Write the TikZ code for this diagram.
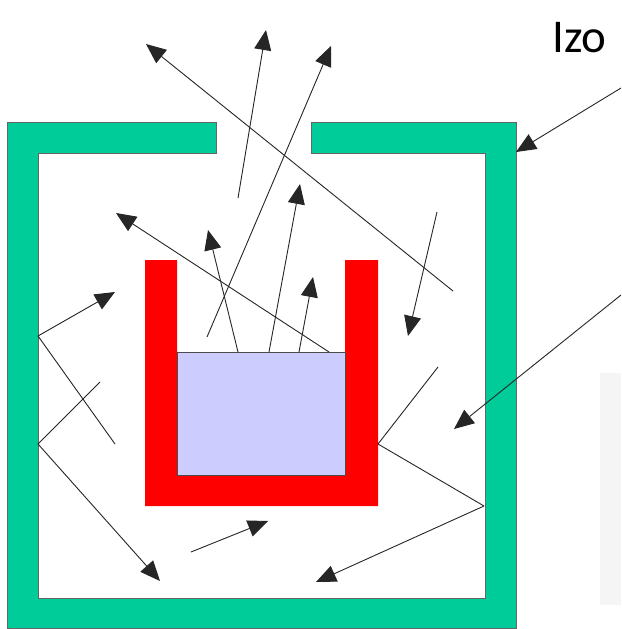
\documentclass[tikz,border=0pt]{standalone}
\usepackage{fontspec}
\setmainfont{Carlito}
\usetikzlibrary{arrows.meta}
\definecolor{wallgreen}{RGB}{0,204,153}
\definecolor{liquid}{RGB}{204,204,255}
\tikzset{
  x=1pt,y=-1pt,
  ray/.style={draw=black!85,line width=0.9pt},
  arrowray/.style={ray,-{Triangle[length=20pt,width=17pt]}},
  wall/.style={fill=wallgreen,draw=black!60,line width=0.6pt},
}
\begin{document}
\begin{tikzpicture}
\useasboundingbox (0,0) rectangle (621,629);
\clip (0,0) rectangle (621,629);
\fill[white] (0,0) rectangle (621,629);
\fill[black!4] (600,373) rectangle (621,605);
\path[wall] (7,122) -- (216,122) -- (216,153) -- (38,153) -- (38,598) -- (485,598) -- (485,153) -- (311,153) -- (311,122) -- (516,122) -- (516,628) -- (7,628) -- cycle;
\fill[red] (145,260) -- (177,260) -- (177,475) -- (345,475) -- (345,260) -- (378,260) -- (378,506) -- (145,506) -- cycle;
\path[fill=liquid,draw=black!70,line width=0.5pt] (177,352) rectangle (345,475);
\node[anchor=base west,inner sep=0pt,font=\fontsize{47}{50}\selectfont] (title) at (552,52) {Izo};
\coordinate (w1) at (38,336);
\coordinate (w2) at (38,444);
\coordinate (c1) at (378,444);
\coordinate (c2) at (484,506);
\draw[arrowray] (238,198) -- (266,30);
\draw[arrowray] (207,337) -- (331,46);
\draw[arrowray] (453,291) -- (146,44);
\draw[arrowray] (437,212) -- (408,336);
\draw[arrowray] (329,352) -- (116,213);
\draw[arrowray] (238,352) -- (208,230);
\draw[arrowray] (269,352) -- (300,184);
\draw[arrowray] (299,352) -- (313,277);
\draw[arrowray] (w1) -- (115,292);
\draw[ray] (w1) -- (115,444);
\draw[ray] (w2) -- (100,382);
\draw[arrowray] (w2) -- (160,581);
\draw[arrowray] (191,552) -- (268,521);
\draw[ray] (438,367) -- (c1);
\draw[ray] (c1) -- (c2);
\draw[arrowray] (c2) -- (316,582);
\draw[arrowray] (621,88) -- (516,152);
\draw[arrowray] (621,295) -- (454,429);
\end{tikzpicture}
\end{document}
